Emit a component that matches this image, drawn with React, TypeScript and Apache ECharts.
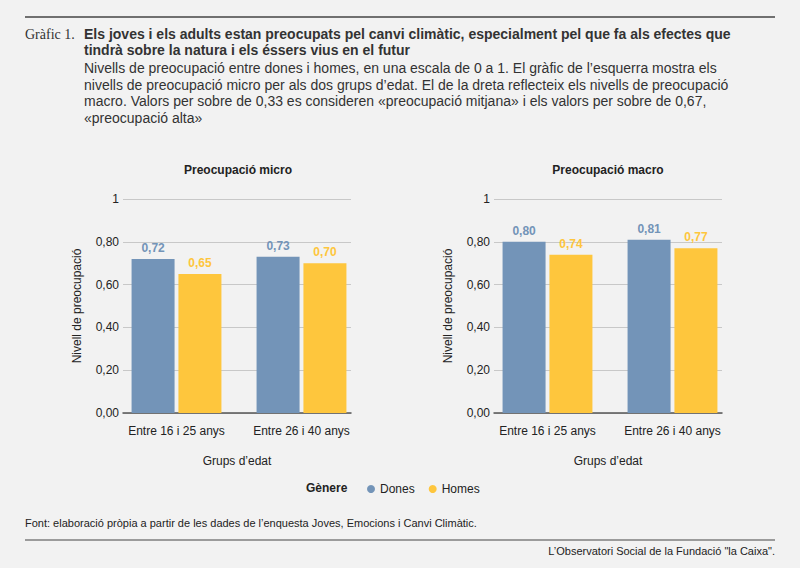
import React, { useEffect, useRef } from "react";
import * as echarts from "echarts";

const categories = ["Entre 16 i 25 anys", "Entre 26 i 40 anys"];
const microDones = [0.72, 0.73];
const microHomes = [0.65, 0.7];
const macroDones = [0.8, 0.81];
const macroHomes = [0.74, 0.77];

const BLUE = "#7394b8";
const YELLOW = "#fec63d";
const FONT = "Liberation Sans, Arial, sans-serif";
const fmt = (v: number) => (v === 1 ? "1" : v.toFixed(2).replace(".", ","));

export default function App() {
  const ref = useRef<HTMLDivElement>(null);
  useEffect(() => {
    const chart = echarts.init(ref.current!, undefined, { renderer: "svg" });
    const grids = [
      { left: 123, width: 228, top: 199, height: 214 },
      { left: 494, width: 228, top: 199, height: 214 },
      { left: 114, width: 250, top: 199, height: 214 },
      { left: 485, width: 250, top: 199, height: 214 },
    ];
    const xAxis = grids.map((_, i) => {
      const frame = i < 2;
      return {
        type: "category",
        gridIndex: i,
        data: categories,
        show: true,
        axisTick: { show: false },
        axisLine: { show: frame, lineStyle: { color: "#555", width: 1.5 } },
        axisLabel: { show: !frame, interval: 0, color: "#222", fontSize: 12, fontFamily: FONT, margin: 12 },
        name: frame ? "Grups d’edat" : "",
        nameLocation: "middle",
        nameGap: 42,
        nameTextStyle: { color: "#222", fontSize: 12, fontFamily: FONT },
      };
    });
    const yAxis = grids.map((_, i) => {
      const frame = i < 2;
      return {
        type: "value",
        gridIndex: i,
        min: 0,
        max: 1,
        interval: 0.2,
        show: frame,
        axisLabel: { color: "#222", fontSize: 12, fontFamily: FONT, formatter: fmt, margin: 4 },
        splitLine: { show: frame, lineStyle: { color: "#c8c8c8" } },
        name: "Nivell de preocupació",
        nameLocation: "middle",
        nameGap: 40,
        nameTextStyle: { color: "#222", fontSize: 12, fontFamily: FONT },
      };
    });
    const lbl = (c: string) => ({
      show: true,
      position: "top",
      color: c,
      fontSize: 12,
      fontWeight: "bold",
      fontFamily: FONT,
      formatter: (p: any) => fmt(p.value),
    });
    const mk = (name: string, data: number[], idx: number, color: string) => ({
      type: "bar",
      name,
      xAxisIndex: idx,
      yAxisIndex: idx,
      data,
      barWidth: 43,
      barGap: "9%",
      itemStyle: { color },
      label: lbl(color),
    });
    chart.setOption({
      animation: false,
      backgroundColor: "#f2f2f2",
      grid: grids,
      xAxis,
      yAxis,
      legend: {
        top: 478,
        left: 362,
        icon: "circle",
        itemWidth: 8,
        itemHeight: 8,
        itemGap: 14,
        textStyle: { color: "#222", fontSize: 12, fontFamily: FONT },
        data: ["Dones", "Homes"],
      },
      series: [
        mk("Dones", microDones, 2, BLUE),
        mk("Homes", microHomes, 2, YELLOW),
        mk("Dones", macroDones, 3, BLUE),
        mk("Homes", macroHomes, 3, YELLOW),
      ],
      graphic: [
        { type: "line", shape: { x1: 25, y1: 17, x2: 775, y2: 17 }, style: { stroke: "#444", lineWidth: 1.5 } },
        { type: "line", shape: { x1: 25, y1: 540, x2: 775, y2: 540 }, style: { stroke: "#444", lineWidth: 1 } },
        { type: "text", x: 25, y: 27, style: { text: "Gràfic 1.", font: "14px 'Liberation Serif', serif", fill: "#333" } },
        {
          type: "text", x: 84, y: 26,
          style: {
            text: "Els joves i els adults estan preocupats pel canvi climàtic, especialment pel que fa als efectes que\ntindrà sobre la natura i els éssers vius en el futur",
            font: "bold 14px 'Liberation Sans', Arial", fill: "#333", lineHeight: 16,
          },
        },
        {
          type: "text", x: 84, y: 60,
          style: {
            text: "Nivells de preocupació entre dones i homes, en una escala de 0 a 1. El gràfic de l’esquerra mostra els\nnivells de preocupació micro per als dos grups d’edat. El de la dreta reflecteix els nivells de preocupació\nmacro. Valors per sobre de 0,33 es consideren «preocupació mitjana» i els valors per sobre de 0,67,\n«preocupació alta»",
            font: "14px 'Liberation Sans', Arial", fill: "#333", lineHeight: 16.5,
          },
        },
        { type: "text", x: 238, y: 164, style: { text: "Preocupació micro", font: "bold 12px 'Liberation Sans', Arial", fill: "#222", align: "center" } },
        { type: "text", x: 608, y: 164, style: { text: "Preocupació macro", font: "bold 12px 'Liberation Sans', Arial", fill: "#222", align: "center" } },
        { type: "text", x: 306, y: 482, style: { text: "Gènere", font: "bold 12px 'Liberation Sans', Arial", fill: "#222" } },
        { type: "text", x: 25, y: 517, style: { text: "Font: elaboració pròpia a partir de les dades de l’enquesta Joves, Emocions i Canvi Climàtic.", font: "11px 'Liberation Sans', Arial", fill: "#222" } },
        { type: "text", x: 775, y: 545, style: { text: "L’Observatori Social de la Fundació \"la Caixa\".", font: "11px 'Liberation Sans', Arial", fill: "#222", align: "right" } },
      ],
    });
    return () => chart.dispose();
  }, []);
  return <div ref={ref} style={{ width: 800, height: 568, position: "absolute", left: 0, top: 0 }} />;
}
